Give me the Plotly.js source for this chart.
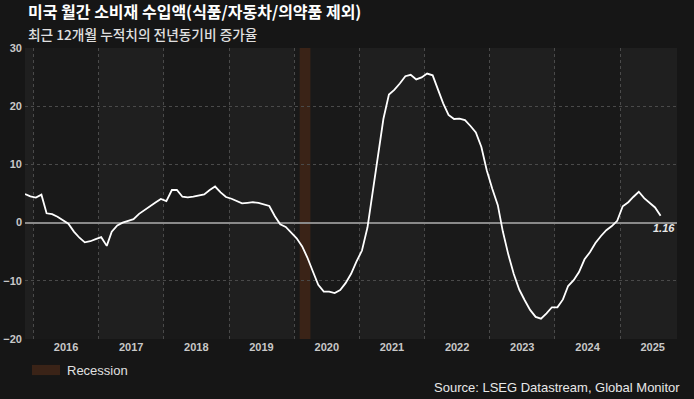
<!DOCTYPE html>
<html>
<head>
<meta charset="utf-8">
<script src="https://cdn.plot.ly/plotly-3.0.1.min.js"></script>
<style>
html,body{margin:0;padding:0;background:#161616;}
#chart{width:694px;height:399px;}
</style>
</head>
<body>
<div id="chart"></div>
<script>
// Monthly observations (plotted mid-month), Nov 2015 .. Aug 2025
const months = [
  "2015-11","2015-12",
  "2016-01","2016-02","2016-03","2016-04","2016-05","2016-06","2016-07","2016-08","2016-09","2016-10","2016-11","2016-12",
  "2017-01","2017-02","2017-03","2017-04","2017-05","2017-06","2017-07","2017-08","2017-09","2017-10","2017-11","2017-12",
  "2018-01","2018-02","2018-03","2018-04","2018-05","2018-06","2018-07","2018-08","2018-09","2018-10","2018-11","2018-12",
  "2019-01","2019-02","2019-03","2019-04","2019-05","2019-06","2019-07","2019-08","2019-09","2019-10","2019-11","2019-12",
  "2020-01","2020-02","2020-03","2020-04","2020-05","2020-06","2020-07","2020-08","2020-09","2020-10","2020-11","2020-12",
  "2021-01","2021-02","2021-03","2021-04","2021-05","2021-06","2021-07","2021-08","2021-09","2021-10","2021-11","2021-12",
  "2022-01","2022-02","2022-03","2022-04","2022-05","2022-06","2022-07","2022-08","2022-09","2022-10","2022-11","2022-12",
  "2023-01","2023-02","2023-03","2023-04","2023-05","2023-06","2023-07","2023-08","2023-09","2023-10","2023-11","2023-12",
  "2024-01","2024-02","2024-03","2024-04","2024-05","2024-06","2024-07","2024-08","2024-09","2024-10","2024-11","2024-12",
  "2025-01","2025-02","2025-03","2025-04","2025-05","2025-06","2025-07","2025-08"
];
const growth = [
  4.9, 4.5,
  4.3, 4.8, 1.6, 1.45, 1.0, 0.35, -0.2, -1.55, -2.6, -3.4, -3.2, -2.85,
  -2.5, -4.0, -1.55, -0.5, 0.0, 0.3, 0.6, 1.5, 2.2, 2.85, 3.45, 4.05,
  3.7, 5.6, 5.6, 4.45, 4.35, 4.45, 4.6, 4.85, 5.6, 6.2, 5.2, 4.4,
  4.1, 3.7, 3.3, 3.4, 3.5, 3.4, 3.1, 2.85, 1.1, -0.3, -0.75, -1.8,
  -2.7, -4.1, -6.0, -8.4, -10.7, -11.85, -11.85, -12.1, -11.6, -10.4, -8.8, -6.7,
  -4.8, -0.8, 5.1, 11.6, 17.8, 22.0, 22.8, 23.9, 25.15, 25.4, 24.6, 24.95,
  25.6, 25.3, 22.9, 20.5, 18.5, 17.8, 17.85, 17.6, 16.6, 15.5, 13.0, 9.0,
  5.8, 3.0, -1.5, -5.5, -8.8, -11.5, -13.3, -15.0, -16.2, -16.5, -15.6, -14.55,
  -14.55, -13.2, -10.9, -9.9, -8.5, -6.3, -5.1, -3.5, -2.3, -1.3, -0.6, 0.3,
  2.8, 3.5, 4.4, 5.3, 4.2, 3.3, 2.6, 1.16
];
const years = ["2016","2017","2018","2019","2020","2021","2022","2023","2024","2025"];
const shadedYears = ["2015","2017","2019","2021","2023","2025"];
const recession = {start: "2020-02-01", end: "2020-04-01"};
const yTicks = [-20, -10, 0, 10, 20, 30];

const xDates = months.map(m => m + "-15");
const lastVal = growth[growth.length - 1];

const shapes = [];
shadedYears.forEach(y => {
  shapes.push({type: "rect", xref: "x", yref: "paper", x0: y + "-01-01", x1: (+y + 1) + "-01-01",
    y0: 0, y1: 1, fillcolor: "#1f1f1f", line: {width: 0}, layer: "below"});
});
shapes.push({type: "rect", xref: "x", yref: "paper", x0: recession.start, x1: recession.end,
  y0: 0, y1: 1, fillcolor: "#3a2317", line: {width: 0}, layer: "below"});
// legend swatch
shapes.push({type: "rect", xref: "paper", yref: "paper", x0: 0.0107, x1: 0.0537, y0: -0.124, y1: -0.089,
  fillcolor: "#3a2317", line: {width: 0}});

const trace = {
  x: xDates, y: growth, type: "scatter", mode: "lines",
  line: {color: "#ffffff", width: 1.8}, hoverinfo: "skip", showlegend: false
};

const layout = {
  width: 694, height: 399,
  paper_bgcolor: "#161616", plot_bgcolor: "#191919",
  margin: {l: 25, r: 17, t: 48, b: 60},
  showlegend: false,
  xaxis: {
    type: "date", range: ["2015-11-15", "2025-11-15"],
    tickmode: "array",
    tickvals: years.map(y => y + "-07-02"),
    ticktext: years,
    showgrid: false, zeroline: false, showline: false, ticks: "",
    tickfont: {family: "Liberation Sans, Arial, sans-serif", size: 11, color: "#c8c8c8", weight: "bold"},
    minor: {tickmode: "array", tickvals: years.map(y => y + "-01-01"), showgrid: true,
      gridcolor: "#4a4a4a", griddash: "dot", gridwidth: 1, ticks: ""}
  },
  yaxis: {
    range: [-20, 30], tickmode: "array", tickvals: yTicks,
    showgrid: true, gridcolor: "#4a4a4a", griddash: "dot", gridwidth: 1,
    zeroline: true, zerolinecolor: "#8a8a8a", zerolinewidth: 2,
    showline: false, ticks: "", ticklabelstandoff: 2,
    tickfont: {family: "Liberation Sans, Arial, sans-serif", size: 11, color: "#c8c8c8", weight: "bold"}
  },
  shapes: shapes,
  annotations: [
    {xref: "paper", yref: "paper", x: 0.0015, y: 1.126, xanchor: "left", yanchor: "middle",
     text: "미국 월간 소비재 수입액(식품/자동차/의약품 제외)", showarrow: false,
     font: {family: "Noto Sans CJK KR, sans-serif", size: 16, color: "#ffffff", weight: "bold"}},
    {xref: "paper", yref: "paper", x: 0.0015, y: 1.048, xanchor: "left", yanchor: "middle",
     text: "최근 12개월 누적치의 전년동기비 증가율", showarrow: false,
     font: {family: "Noto Sans CJK KR, sans-serif", size: 13.7, color: "#e0e0e0", weight: 500}},
    {xref: "x", yref: "y", x: xDates[xDates.length - 1], y: lastVal, xanchor: "center", yanchor: "middle",
     xshift: 3, yshift: -12, text: "<i><b>" + lastVal.toFixed(2) + "</b></i>", showarrow: false,
     font: {family: "Liberation Sans, Arial, sans-serif", size: 11, color: "#e8e8e8"}},
    {xref: "paper", yref: "paper", x: 0.061, y: -0.107, xanchor: "left", yanchor: "middle",
     text: "Recession", showarrow: false,
     font: {family: "Liberation Sans Narrow, Liberation Sans, Arial, sans-serif", size: 13, color: "#e0e0e0"}},
    {xref: "paper", yref: "paper", x: 1.0077, y: -0.168, xanchor: "right", yanchor: "middle",
     text: "Source: LSEG Datastream, Global Monitor", showarrow: false,
     font: {family: "Liberation Sans Narrow, Liberation Sans, Arial, sans-serif", size: 13, color: "#e8e8e8"}}
  ]
};

Plotly.newPlot("chart", [trace], layout, {displayModeBar: false, staticPlot: true});
</script>
</body>
</html>
